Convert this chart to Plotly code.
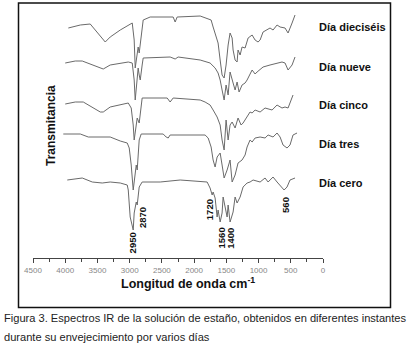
import plotly.graph_objects as go

# Wavenumber (cm-1) and transmittance (arbitrary units, offset per spectrum)
wn_dia16 = [3952, 3766, 3612, 3503, 3379, 3302, 3146, 2960, 2930, 2914, 2883, 2868, 2852, 2821, 2790, 2682,
            2325, 2294, 2263, 1906, 1736, 1705, 1658, 1628, 1596, 1566, 1534, 1504, 1472, 1442, 1410, 1395,
            1364, 1333, 1318, 1286, 1256, 1209, 1162, 1100, 1054, 1008, 976, 930, 822, 775, 713, 666, 589,
            542, 480, 434]
t_dia16 = [230, 233, 234, 226, 216, 221, 228, 235, 218, 190, 208, 211, 205, 223, 238, 241,
           241, 236, 241, 242, 238, 231, 221, 215, 198, 183, 180, 193, 213, 225, 220, 208,
           198, 196, 208, 203, 211, 210, 220, 223, 218, 216, 218, 226, 230, 228, 233, 231, 230,
           225, 235, 243]

wn_dia9 = [4000, 3844, 3736, 3580, 3410, 3302, 3022, 2960, 2930, 2914, 2883, 2868, 2852, 2836, 2806, 2790,
           2372, 2294, 2248, 1906, 1752, 1674, 1628, 1596, 1566, 1534, 1504, 1472, 1442, 1410, 1395, 1364,
           1333, 1302, 1256, 1209, 1178, 1100, 1054, 1023, 930, 822, 713, 636, 589, 542, 480, 434]
t_dia9 = [195, 197, 197, 193, 189, 193, 196, 195, 178, 158, 183, 190, 183, 178, 193, 200,
          201, 199, 201, 198, 195, 190, 185, 178, 168, 158, 173, 163, 186, 180, 175, 168,
          176, 166, 173, 175, 178, 188, 184, 186, 191, 193, 195, 196, 195, 188, 193, 201]

wn_dia5 = [4000, 3844, 3720, 3580, 3456, 3410, 3302, 3022, 2976, 2945, 2930, 2898, 2883, 2852, 2836, 2806,
           2418, 2372, 2325, 1906, 1830, 1752, 1705, 1643, 1596, 1566, 1534, 1504, 1472, 1442, 1410, 1364,
           1318, 1271, 1240, 1178, 1132, 1100, 1054, 976, 899, 790, 713, 636, 589, 542, 480, 465]
t_dia5 = [154, 156, 156, 151, 146, 146, 151, 155, 150, 133, 118, 133, 140, 135, 143, 160,
          160, 156, 160, 158, 156, 153, 148, 141, 133, 118, 108, 138, 118, 133, 136, 130,
          140, 133, 135, 141, 146, 145, 148, 146, 150, 148, 153, 150, 151, 150, 161, 163]

wn_dia3 = [4030, 3766, 3642, 3503, 3302, 3146, 3038, 3007, 2976, 2945, 2914, 2898, 2883, 2868, 2852, 2821,
           2480, 2434, 2402, 2372, 1906, 1830, 1782, 1736, 1705, 1674, 1643, 1596, 1566, 1534, 1488, 1442,
           1410, 1364, 1318, 1256, 1209, 1178, 1132, 1100, 1054, 976, 899, 852, 775, 713, 666, 620, 558,
           512, 465, 403]
t_dia3 = [124, 124, 121, 121, 121, 117, 115, 110, 93, 68, 83, 93, 88, 103, 118, 124,
          124, 121, 120, 123, 123, 123, 120, 111, 98, 91, 101, 105, 93, 80, 88, 98,
          76, 83, 95, 98, 103, 111, 118, 116, 120, 121, 120, 123, 121, 125, 121, 113, 110,
          113, 123, 125]

wn_dia0 = [3968, 3736, 3580, 3426, 3302, 3146, 3038, 3022, 2992, 2945, 2930, 2898, 2883, 2852, 2806, 2526,
           2216, 1798, 1752, 1720, 1705, 1674, 1643, 1628, 1596, 1566, 1550, 1519, 1488, 1472, 1442, 1395,
           1364, 1333, 1286, 1240, 1178, 1132, 1085, 976, 899, 852, 775, 713, 636, 604, 558, 512, 434]
t_dia0 = [78, 80, 76, 75, 76, 75, 73, 68, 41, 28, 45, 56, 53, 71, 76, 76,
          78, 76, 70, 63, 66, 60, 41, 48, 36, 45, 61, 51, 41, 53, 36, 46,
          61, 55, 61, 71, 75, 76, 78, 76, 80, 76, 81, 76, 71, 68, 71, 78, 80]

series_names = ["Día dieciséis", "Día nueve", "Día cinco", "Día tres", "Día cero"]
series_wn = [wn_dia16, wn_dia9, wn_dia5, wn_dia3, wn_dia0]
series_t = [t_dia16, t_dia9, t_dia5, t_dia3, t_dia0]

peak_labels = ["2950", "2870", "1720", "1560", "1400", "560"]
peak_wn = [2950, 2870, 1720, 1560, 1400, 560]
peak_y = [15.5, 40, 48, 20, 20, 53]
peak_xshift = [0, 4, -3, -1, -3, -2]

x_ticks = [0, 500, 1000, 1500, 2000, 2500, 3000, 3500, 4000, 4500]

FONT = "Liberation Sans"
LINE = "#6a6a6a"

fig = go.Figure()
for name, wn, t in zip(series_names, series_wn, series_t):
    fig.add_trace(go.Scatter(x=wn, y=t, mode="lines", name=name,
                             line=dict(color=LINE, width=1), showlegend=False,
                             hoverinfo="skip"))

# plot area: pixels x 33..323, y 5..258
def px_x(p):
    return (p - 33) / 290.0

def px_y(p):
    return (258 - p) / 253.0

label_y = [27, 67, 105, 144, 183]
for name, yy in zip(series_names, label_y):
    fig.add_annotation(xref="paper", yref="paper", x=px_x(317), y=px_y(yy),
                       xanchor="left", yanchor="middle", showarrow=False,
                       text="<b>%s</b>" % name,
                       font=dict(family=FONT, size=11, color="#111111"))

for lab, wn, yy, xs in zip(peak_labels, peak_wn, peak_y, peak_xshift):
    fig.add_annotation(x=wn, y=yy, xref="x", yref="y", text="<b>%s</b>" % lab,
                       textangle=-90, showarrow=False, xshift=xs,
                       font=dict(family=FONT, size=9.5, color="#111111"))

# axis titles
fig.add_annotation(xref="paper", yref="paper", x=px_x(42), y=px_y(126),
                   text="<b>Transmitancia</b>", textangle=-90, showarrow=False,
                   font=dict(family=FONT, size=12, color="#111111"))
fig.add_annotation(xref="paper", yref="paper", x=px_x(188), y=px_y(293),
                   text="<b>Longitud de onda cm<sup>-1</sup></b>", showarrow=False,
                   font=dict(family=FONT, size=12.5, color="#111111"))

# caption
fig.add_annotation(xref="paper", yref="paper", x=px_x(2), y=px_y(318),
                   xanchor="left", yanchor="middle", showarrow=False,
                   text="Figura 3. Espectros IR de la solución de estaño, obtenidos en diferentes instantes",
                   font=dict(family=FONT, size=11.1, color="#222222"))
fig.add_annotation(xref="paper", yref="paper", x=px_x(2), y=px_y(337),
                   xanchor="left", yanchor="middle", showarrow=False,
                   text="durante su envejecimiento por varios días",
                   font=dict(family=FONT, size=11.1, color="#222222"))

# frame
fig.add_shape(type="rect", xref="paper", yref="paper",
              x0=px_x(18.5), x1=px_x(390.5), y0=px_y(307.5), y1=px_y(3),
              line=dict(color="#111111", width=1.5))

fig.update_layout(
    width=415, height=349,
    margin=dict(l=33, r=92, t=5, b=91),
    paper_bgcolor="white", plot_bgcolor="white",
    xaxis=dict(range=[4500, 0], tickvals=x_ticks, ticktext=[str(v) for v in x_ticks],
               ticks="outside", ticklen=4, tickwidth=1, tickcolor="#444444",
               showline=True, linecolor="#444444", linewidth=1,
               showgrid=False, zeroline=False,
               tickfont=dict(family=FONT, size=8, color="#888888"),
               minor=dict(ticks="outside", ticklen=3, tickwidth=1, tickcolor="#444444",
                          dtick=250, tick0=0, showgrid=False)),
    yaxis=dict(range=[0, 253], visible=False),
)

fig.write_html("out.html", config={"displayModeBar": False},
               post_script="document.body.style.margin='0';document.body.style.overflow='hidden';")
